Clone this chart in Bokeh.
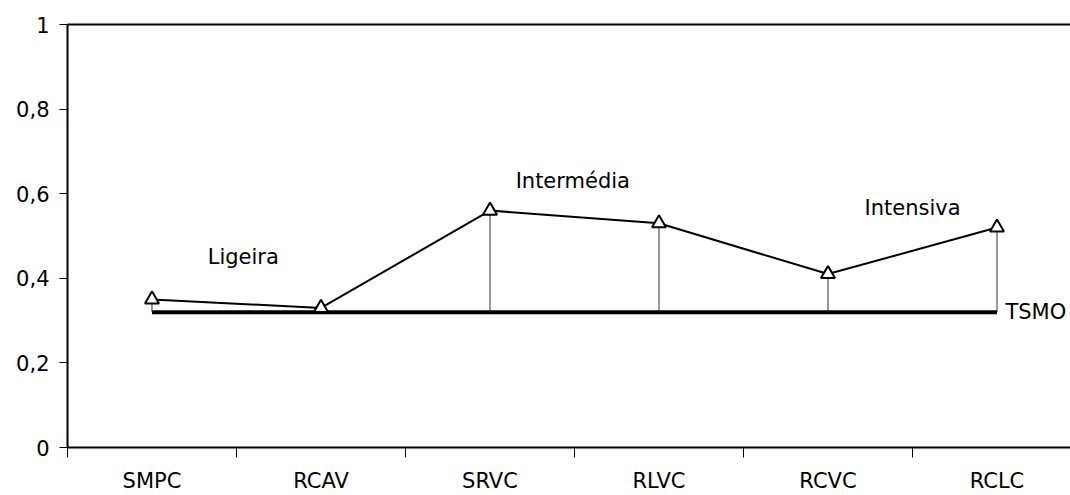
from bokeh.plotting import figure
from bokeh.models import Range1d, FixedTicker, LinearAxis, ColumnDataSource
from bokeh.core.properties import value
from bokeh.embed import file_html
from bokeh.resources import INLINE

categories = ["SMPC", "RCAV", "SRVC", "RLVC", "RCVC", "RCLC"]
values = [0.35, 0.33, 0.56, 0.53, 0.41, 0.52]
tsmo = 0.32
group_labels = ["Ligeira", "Intermédia", "Intensiva"]
group_label_x = [1.04, 2.99, 5.0]
group_label_y = [0.45, 0.63, 0.567]
y_ticks = [0, 0.2, 0.4, 0.6, 0.8, 1.0]
y_tick_labels = ["0", "0,2", "0,4", "0,6", "0,8", "1"]

xs = [i + 0.5 for i in range(len(categories))]
FONT = "DejaVu Sans"
FS = "21px"

p = figure(width=1070, height=495, output_backend="svg", toolbar_location=None,
           x_range=Range1d(0, 5.935), y_range=Range1d(0, 1),
           min_border_left=67, min_border_right=0, min_border_top=24, min_border_bottom=48,
           x_axis_type=None, y_axis_type=None)
p.outline_line_color = None
p.grid.visible = False
p.background_fill_color = "white"
p.border_fill_color = "white"

# bottom axis
xaxis = LinearAxis(ticker=FixedTicker(ticks=xs, minor_ticks=list(range(0, 7))))
xaxis.major_label_overrides = {x: c for x, c in zip(xs, categories)}
xaxis.major_tick_out = 0
xaxis.major_tick_in = 0
xaxis.minor_tick_out = 10
xaxis.minor_tick_in = 0
xaxis.minor_tick_line_color = "black"
xaxis.minor_tick_line_width = 1
xaxis.axis_line_width = 2
xaxis.axis_line_color = "black"
xaxis.major_label_standoff = 11
xaxis.major_label_text_font = FONT
xaxis.major_label_text_font_size = FS
xaxis.major_label_text_color = "black"
p.add_layout(xaxis, "below")

# left axis
yaxis = LinearAxis(ticker=FixedTicker(ticks=y_ticks))
yaxis.major_label_overrides = {t: l for t, l in zip(y_ticks, y_tick_labels)}
yaxis.minor_tick_line_color = None
yaxis.major_tick_out = 8
yaxis.major_tick_in = 0
yaxis.major_tick_line_color = "black"
yaxis.axis_line_width = 2
yaxis.axis_line_color = "black"
yaxis.major_label_standoff = 10
yaxis.major_label_text_font = FONT
yaxis.major_label_text_font_size = FS
yaxis.major_label_text_color = "black"
p.add_layout(yaxis, "left")

# top border
top = LinearAxis(ticker=FixedTicker(ticks=[]))
top.major_tick_line_color = None
top.minor_tick_line_color = None
top.major_label_text_font_size = "0px"
top.axis_line_width = 2
top.axis_line_color = "black"
p.add_layout(top, "above")

# TSMO line
p.line([xs[0], xs[-1]], [tsmo, tsmo], line_color="black", line_width=4)

# drop lines
p.segment(x0=xs, y0=[tsmo] * len(xs), x1=xs, y1=values, line_color="#333333", line_width=1)

# main line
src = ColumnDataSource(dict(x=xs, y=values))
p.line("x", "y", source=src, line_color="black", line_width=2)
p.scatter("x", "y", source=src, marker="triangle", size=14, line_color="black",
          line_width=2, fill_color="white")

# labels
p.text(x=group_label_x, y=group_label_y, text=group_labels, text_font=value(FONT),
       text_font_size=FS, text_align="center", text_baseline="middle", text_color="black")
p.text(x=[5.55], y=[tsmo], text=["TSMO"], text_font=value(FONT), text_font_size=FS,
       text_align="left", text_baseline="middle", text_color="black")

open("out.html", "w").write(file_html(p, INLINE))
